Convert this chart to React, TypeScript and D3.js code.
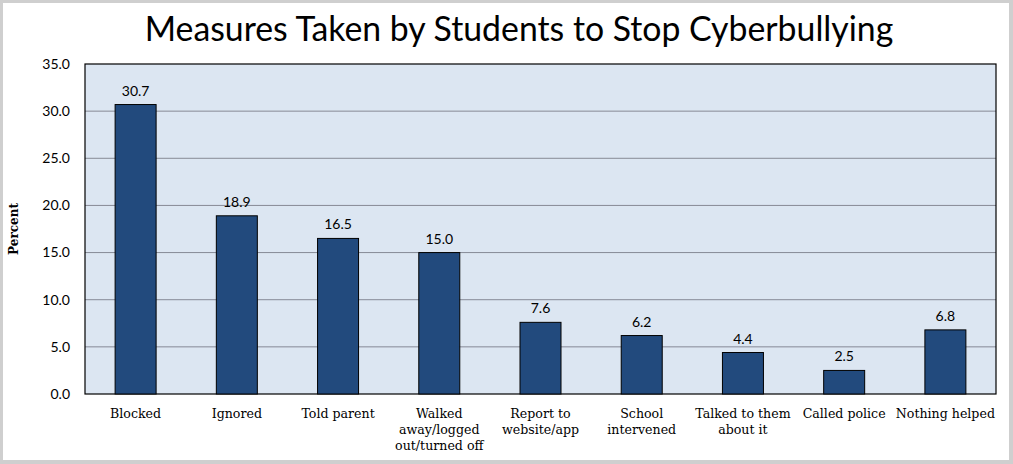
import React from "react";
import * as d3 from "d3";

const categories: string[][] = [
  ["Blocked"],
  ["Ignored"],
  ["Told parent"],
  ["Walked", "away/logged", "out/turned off"],
  ["Report to", "website/app"],
  ["School", "intervened"],
  ["Talked to them", "about it"],
  ["Called police"],
  ["Nothing helped"],
];
const values: number[] = [30.7, 18.9, 16.5, 15.0, 7.6, 6.2, 4.4, 2.5, 6.8];
const yTicks: number[] = [0, 5, 10, 15, 20, 25, 30, 35];
const title = "Measures Taken by Students to Stop Cyberbullying";
const yTitle = "Percent";

const W = 1013;
const H = 464;
const left = 85, right = 996, top = 64, bottom = 394;

export default function App() {
  const x = d3
    .scaleBand<number>()
    .domain(values.map((_, i) => i))
    .range([left, right])
    .paddingInner(0.595)
    .paddingOuter(0.2975);
  const y = d3.scaleLinear().domain([0, 35]).range([bottom, top]);
  const sans = "Lato, 'Open Sans', sans-serif";
  const serif = "'DejaVu Serif', serif";
  return (
    <svg
      width={W}
      height={H}
      style={{ position: "absolute", left: 0, top: 0, display: "block" }}
    >
      <rect x={0} y={0} width={W} height={H} fill="#cfcfcf" />
      <rect x={3} y={3} width={1006} height={457} fill="#ffffff" />
      <text
        x={519}
        y={41}
        textAnchor="middle"
        fontFamily={sans}
        fontSize={33.8}
        fill="#000"
      >
        {title}
      </text>
      <rect x={left} y={top} width={right - left} height={bottom - top} fill="#dce6f2" />
      {yTicks.map((t) => (
        <g key={t}>
          {t > 0 && t < 35 && (
            <line x1={left} x2={right} y1={y(t)} y2={y(t)} stroke="#868a96" strokeWidth={1} />
          )}
          <text
            x={70}
            y={y(t)}
            dy="0.35em"
            textAnchor="end"
            fontFamily={sans}
            fontSize={14}
            fill="#000"
          >
            {t.toFixed(1)}
          </text>
        </g>
      ))}
      <rect
        x={left}
        y={top}
        width={right - left}
        height={bottom - top}
        fill="none"
        stroke="#000"
        strokeWidth={1.2}
      />
      {values.map((v, i) => (
        <g key={i}>
          <rect
            x={x(i)!}
            y={y(v)}
            width={x.bandwidth()}
            height={bottom - y(v)}
            fill="#224a7d"
            stroke="#000"
            strokeWidth={1}
          />
          <text
            x={x(i)! + x.bandwidth() / 2}
            y={y(v) - 9}
            textAnchor="middle"
            fontFamily={sans}
            fontSize={14}
            fill="#000"
          >
            {v.toFixed(1)}
          </text>
          {categories[i].map((line, j) => (
            <text
              key={j}
              x={x(i)! + x.bandwidth() / 2}
              y={418 + j * 16}
              textAnchor="middle"
              fontFamily={serif}
              fontSize={12.6}
              fill="#000"
            >
              {line}
            </text>
          ))}
        </g>
      ))}
      <text
        transform={`translate(18,${(top + bottom) / 2}) rotate(-90)`}
        textAnchor="middle"
        fontFamily={serif}
        fontWeight="bold"
        fontSize={12}
        fill="#000"
      >
        {yTitle}
      </text>
    </svg>
  );
}
